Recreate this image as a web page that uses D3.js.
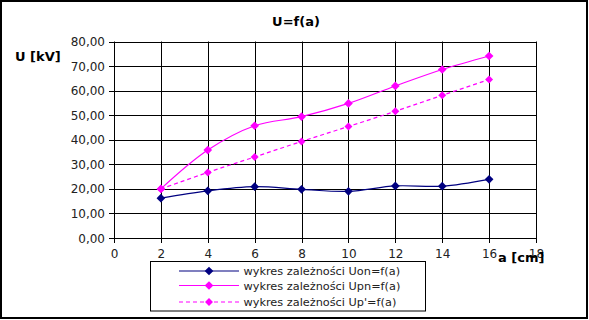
<!DOCTYPE html>
<html>
<head>
<meta charset="utf-8">
<script src="https://cdn.jsdelivr.net/npm/d3@7"></script>
<style>
  body { margin: 0; background: #fff; }
  text { font-family: "DejaVu Sans", Verdana, sans-serif; }
</style>
</head>
<body>
<div id="container"></div>
<script>
/* data */
var aValues = [2, 4, 6, 8, 10, 12, 14, 16]
var uon = [16.2, 19.2, 20.9, 19.8, 19.0, 21.2, 21.1, 23.9]
var upn = [20.0, 35.8, 45.7, 49.4, 54.8, 61.9, 68.6, 74.1]
var upPrime = [20.0, 26.7, 33.0, 39.3, 45.4, 51.6, 58.1, 64.5]
var xTicks = [0, 2, 4, 6, 8, 10, 12, 14, 16, 18]
var yTicks = [0, 10, 20, 30, 40, 50, 60, 70, 80]
var seriesNames = ["wykres zależności Uon=f(a)", "wykres zależności Upn=f(a)", "wykres zależności Up'=f(a)"]

var series = [
  { name: seriesNames[0], values: uon, color: "#000080", dash: null, size: 48 },
  { name: seriesNames[1], values: upn, color: "#ff00ff", dash: null, size: 48 },
  { name: seriesNames[2], values: upPrime, color: "#ff00ff", dash: "4,3", size: 40 }
]

/* setup the dimensions */
var W = 589, H = 320
var plot = { left: 114, right: 536, top: 41.5, bottom: 238 }

var svg = d3.select("#container")
            .append("svg")
            .attr("width", W)
            .attr("height", H)

/* outer frame */
svg.append("rect")
   .attr("x", 1).attr("y", 1)
   .attr("width", 586).attr("height", 317)
   .attr("fill", "none")
   .attr("stroke", "#000")
   .attr("stroke-width", 2)

var x = d3.scaleLinear().domain([0, 18]).range([plot.left, plot.right])
var y = d3.scaleLinear().domain([0, 80]).range([plot.bottom, plot.top])

var fmt = function(d) { return d3.format(".2f")(d).replace(".", ",") }

/* grid */
var g = svg.append("g")
g.selectAll(".hgrid")
 .data(yTicks)
 .enter().append("line")
   .attr("x1", plot.left - 5).attr("x2", plot.right)
   .attr("y1", function(d) { return Math.round(y(d)) + 0.5 })
   .attr("y2", function(d) { return Math.round(y(d)) + 0.5 })
   .attr("stroke", "#000")

g.selectAll(".vgrid")
 .data(xTicks)
 .enter().append("line")
   .attr("x1", function(d) { return Math.round(x(d)) + 0.5 })
   .attr("x2", function(d) { return Math.round(x(d)) + 0.5 })
   .attr("y1", plot.top).attr("y2", plot.bottom + 5)
   .attr("stroke", "#000")

/* tick labels */
g.selectAll(".ylab")
 .data(yTicks)
 .enter().append("text")
   .attr("x", 105)
   .attr("y", function(d) { return y(d) + 4.5 })
   .attr("text-anchor", "end")
   .attr("font-size", 12)
   .attr("fill", "#222")
   .text(fmt)

g.selectAll(".xlab")
 .data(xTicks)
 .enter().append("text")
   .attr("x", function(d) { return x(d) + 0.5 })
   .attr("y", 257.5)
   .attr("text-anchor", "middle")
   .attr("font-size", 12)
   .attr("fill", "#222")
   .text(function(d) { return d })

/* titles */
svg.append("text")
   .attr("x", 296).attr("y", 26)
   .attr("text-anchor", "middle")
   .attr("font-size", 13).attr("font-weight", "bold")
   .text("U=f(a)")

svg.append("text")
   .attr("x", 15).attr("y", 61)
   .attr("font-size", 13).attr("font-weight", "bold")
   .text("U [kV]")

svg.append("text")
   .attr("x", 498).attr("y", 262)
   .attr("font-size", 13).attr("font-weight", "bold")
   .text("a [cm]")

/* series */
var line = d3.line()
             .x(function(d) { return x(d[0]) })
             .y(function(d) { return y(d[1]) })
             .curve(d3.curveCatmullRom.alpha(0.5))

var diamond = d3.symbol().type(d3.symbolDiamond2)

series.forEach(function(s) {
  var pts = aValues.map(function(a, i) { return [a, s.values[i]] })
  svg.append("path")
     .attr("d", line(pts))
     .attr("fill", "none")
     .attr("stroke", s.color)
     .attr("stroke-width", 1.2)
     .attr("stroke-dasharray", s.dash)
  svg.selectAll(null)
     .data(pts)
     .enter().append("path")
       .attr("d", diamond.size(s.size))
       .attr("transform", function(d) { return "translate(" + x(d[0]) + "," + y(d[1]) + ")" })
       .attr("fill", s.color)
})

/* legend */
var legend = svg.append("g")
legend.append("rect")
      .attr("x", 150.5).attr("y", 261.5)
      .attr("width", 275).attr("height", 49.5)
      .attr("fill", "#fff")
      .attr("stroke", "#000")

var rowY = [271, 285.5, 302]
series.forEach(function(s, i) {
  legend.append("line")
        .attr("x1", 179).attr("x2", 239)
        .attr("y1", rowY[i]).attr("y2", rowY[i])
        .attr("stroke", s.color)
        .attr("stroke-width", 1.2)
        .attr("stroke-dasharray", s.dash)
  legend.append("path")
        .attr("d", diamond.size(s.size))
        .attr("transform", "translate(209," + rowY[i] + ")")
        .attr("fill", s.color)
  legend.append("text")
        .attr("x", 243.5).attr("y", rowY[i] + 4)
        .attr("font-size", 11.3)
        .attr("fill", "#222")
        .text(s.name)
})
</script>
</body>
</html>
